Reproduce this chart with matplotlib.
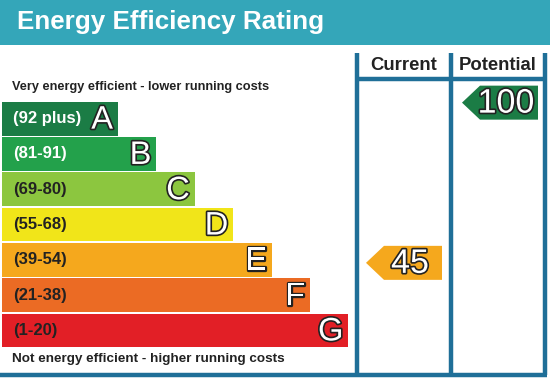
import matplotlib
matplotlib.use("Agg")
import matplotlib.pyplot as plt
import matplotlib.patheffects as pe
from matplotlib.patches import Polygon, Rectangle

plt.rcParams['font.family'] = ['Liberation Sans', 'DejaVu Sans']

# data
bands = ['A', 'B', 'C', 'D', 'E', 'F', 'G']
ranges = ['(92 plus)', '(81-91)', '(69-80)', '(55-68)', '(39-54)', '(21-38)', '(1-20)']
lower = [92, 81, 69, 55, 39, 21, 1]
colors = ['#1b7c45', '#23a14b', '#8cc63f', '#f1e519', '#f5a81d', '#eb6b24', '#e21f26']
label_colors = ['white', 'white', '#222222', '#222222', '#222222', '#222222', '#222222']
current = 45
potential = 100

edge = '#1f6f98'
teal = '#34a6b9'

fig = plt.figure(figsize=(5.5, 3.81), dpi=100)
ax = fig.add_axes([0, 0, 1, 1])
ax.set_xlim(0, 550)
ax.set_ylim(381, 0)
ax.axis('off')

# header
ax.add_patch(Rectangle((0, 0), 550, 45, color=teal, lw=0))
ax.text(17, 22.5, 'Energy Efficiency Rating', color='white', fontsize=18.7,
        fontweight='bold', va='center', ha='left')

# bars
row_top = 101
row_h = 35.3
widths = [116 + 38.4 * i for i in range(len(bands))]
ax.barh([row_top + row_h * i + row_h / 2 for i in range(len(bands))], widths,
        height=row_h - 1.5, left=2, color=colors, lw=0)
outline = [pe.withStroke(linewidth=2.4, foreground='#222222')]
for i, b in enumerate(bands):
    yc = row_top + row_h * i + row_h / 2
    ax.text(13, yc, ranges[i], color=label_colors[i], fontsize=12, fontweight='bold',
            va='center', ha='left')
    ax.text(2 + widths[i] - 5, yc + 1.5, b, color='white', fontsize=23.5,
            va='center', ha='right', path_effects=outline)

ax.text(12, 87, 'Very energy efficient - lower running costs', fontsize=9.2,
        fontweight='bold', va='center', color='#222222')
ax.text(12, 359, 'Not energy efficient - higher running costs', fontsize=9.7,
        fontweight='bold', va='center', color='#222222')

# frame
for x in [357, 451, 545]:
    ax.plot([x, x], [53, 375], color=edge, lw=3.2, solid_capstyle='butt')
ax.plot([355.5, 546.5], [79, 79], color=edge, lw=3.2, solid_capstyle='butt')
ax.plot([0, 546.5], [375, 375], color=edge, lw=3.2, solid_capstyle='butt')
ax.text(404, 65, 'Current', fontsize=13.3, fontweight='bold', ha='center', va='center',
        color='#222222')
ax.text(498, 65, 'Potential', fontsize=13.3, fontweight='bold', ha='center', va='center',
        color='#222222')


def band_of(v):
    for i, lo in enumerate(lower):
        if v >= lo:
            return i
    return len(lower) - 1


def arrow(v, x0, x1, nudge):
    i = band_of(v)
    yc = row_top + row_h * i + row_h / 2 + nudge
    h = 34
    pts = [(x0, yc), (x0 + 18, yc - h / 2), (x1, yc - h / 2), (x1, yc + h / 2), (x0 + 18, yc + h / 2)]
    ax.add_patch(Polygon(pts, closed=True, color=colors[i], lw=0))
    ax.text((x0 + 18 + x1) / 2 - 3, yc + 1.5, str(v), color='white', fontsize=24.5,
            ha='center', va='center', path_effects=outline)


arrow(current, 366, 442, 3)
arrow(potential, 462, 538, -16)

fig.savefig('out.png', dpi=100)
